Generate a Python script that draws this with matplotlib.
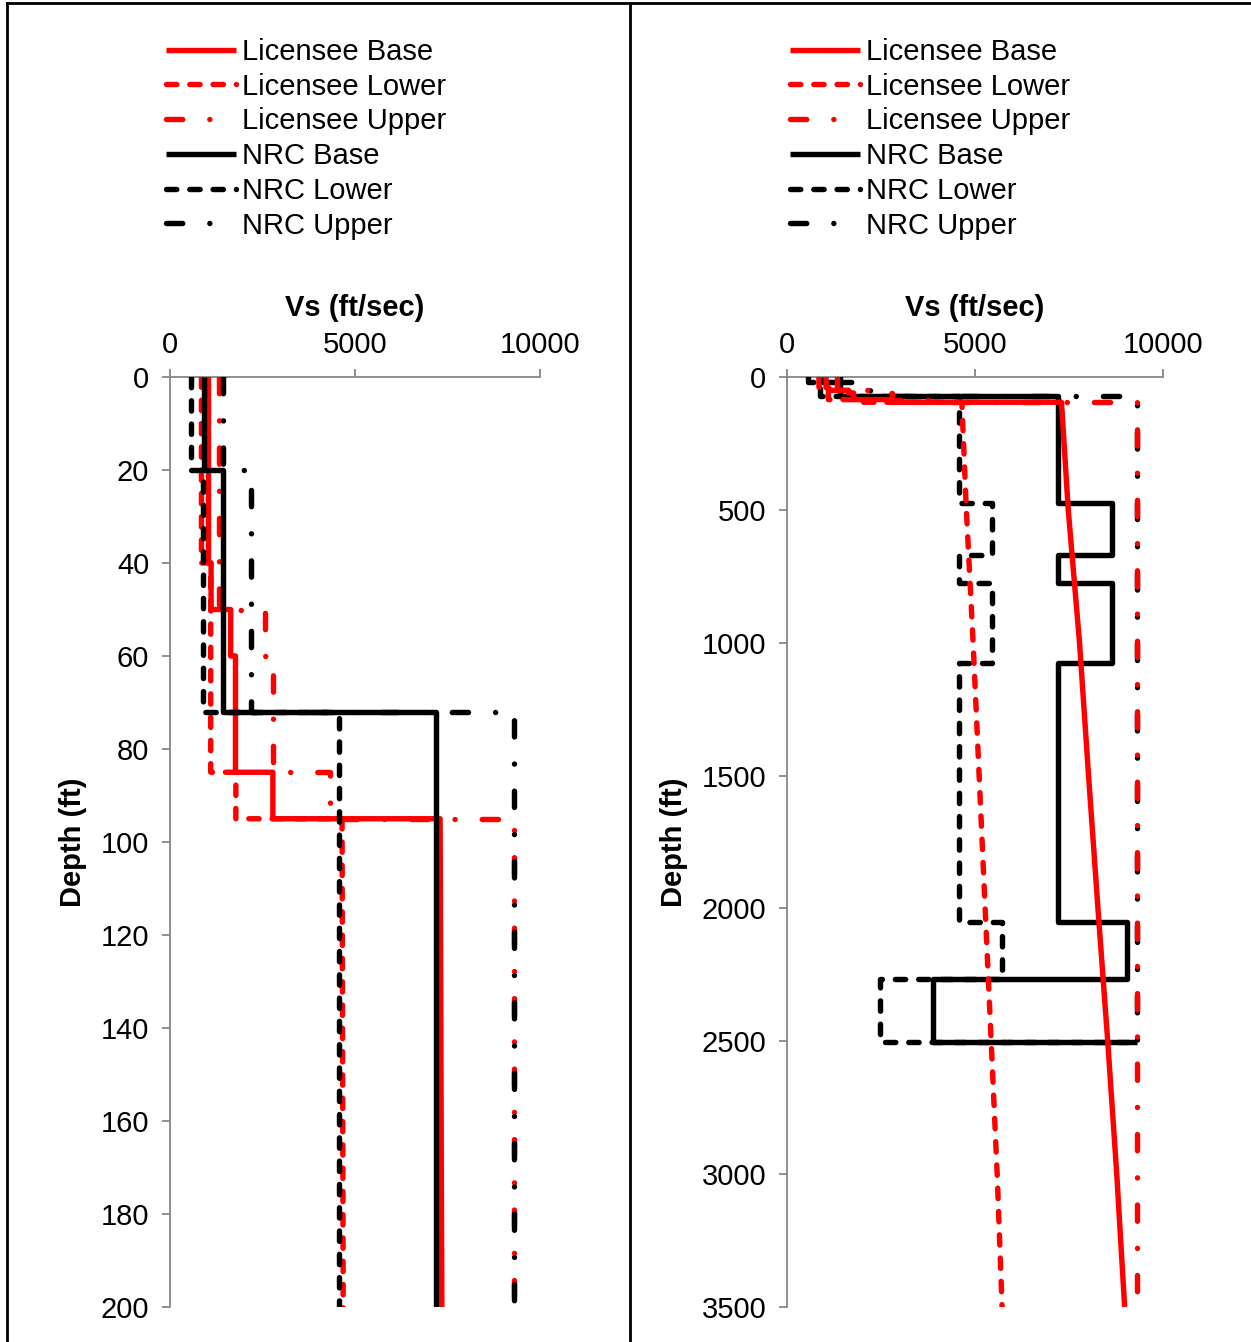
import numpy as np
import matplotlib
matplotlib.use("Agg")
import matplotlib.pyplot as plt
from matplotlib.lines import Line2D

plt.rcParams['font.family'] = ['Liberation Sans', 'DejaVu Sans']

# ---- data (ft, ft/sec) ----
# licensee profiles: shallow layers (boundaries + velocities), then gradient below 95 ft
lic_base_z = [0, 40, 50, 60, 85, 95]
lic_base_v = [1040, 1110, 1640, 1770, 2780]
lic_lower_z = [0, 40, 85, 95]
lic_lower_v = [850, 1100, 1780]
lic_upper_z = [0, 50, 60, 85, 95]
lic_upper_v = [1330, 2560, 2780, 4320]

grad_z = [95, 500, 1000, 1500, 2000, 2500, 3000, 3500]
grad_base = [7300, 7480, 7780, 8020, 8270, 8530, 8770, 8980]
grad_lower = [4650, 4770, 4950, 5110, 5270, 5430, 5590, 5720]
grad_upper = [9300, 9300, 9300, 9300, 9300, 9300, 9300, 9300]

# NRC profiles: layer boundaries + velocities, halfspace value at the base
nrc_z = [0, 20, 72, 474, 670, 776, 1075, 2050, 2266, 2504]
nrc_base_v = [930, 1420, 7200, 8640, 7200, 8640, 7200, 9040, 3890]
nrc_lower_v = [570, 880, 4570, 5460, 4570, 5460, 4570, 5710, 2470]
nrc_upper_z = [0, 20, 72, 2504]
nrc_upper_v = [1420, 2200, 9300]
halfspace = 9300

labels = ['Licensee Base', 'Licensee Lower', 'Licensee Upper',
          'NRC Base', 'NRC Lower', 'NRC Upper']


def steps(z, v):
    x = np.repeat(v, 2)
    y = np.column_stack([z[:-1], z[1:]]).ravel()
    return list(x), list(y)


def profiles():
    out = []
    x, y = steps(lic_base_z, lic_base_v)
    out.append((x + grad_base, y + grad_z))
    x, y = steps(lic_lower_z, lic_lower_v)
    out.append((x + grad_lower, y + grad_z))
    x, y = steps(lic_upper_z, lic_upper_v)
    out.append((x + grad_upper, y + grad_z))
    x, y = steps(nrc_z, nrc_base_v)
    out.append((x + [halfspace], y + [nrc_z[-1]]))
    x, y = steps(nrc_z, nrc_lower_v)
    out.append((x + [halfspace], y + [nrc_z[-1]]))
    x, y = steps(nrc_upper_z, nrc_upper_v)
    out.append((x, y))
    return out


dash = (0, (1.9, 2.4))
dashdot = (0, (3.0, 5.0, 0.01, 5.0))
styles = [('red', '-'), ('red', dash), ('red', dashdot),
          ('black', '-'), ('black', dash), ('black', dashdot)]
lw = 3.9
fs = 21
gray = '#878787'

W, H = 1251, 1342
fig = plt.figure(figsize=(W / 100, H / 100), dpi=100)
ax1 = fig.add_axes([170 / W, 35 / H, 370 / W, 930 / H])
ax2 = fig.add_axes([787 / W, 35 / H, 376 / W, 930 / H])

for ax, zmax, yt, red_top, legx in [(ax1, 200, np.arange(0, 201, 20), False, 166),
                                     (ax2, 3500, np.arange(0, 3501, 500), True, 790)]:
    handles = []
    for i, ((x, y), (c, ls)) in enumerate(zip(profiles(), styles)):
        z = 2 if (i < 3) == red_top else 1
        ln, = ax.plot(x, y, color=c, linestyle=ls, lw=lw, zorder=z + 2,
                      dash_capstyle='round', solid_capstyle='butt',
                      label=labels[i])
        handles.append(ln)
    ax.set_xlim(0, 10000)
    ax.set_ylim(zmax, 0)
    ax.set_xticks([0, 5000, 10000])
    ax.set_yticks(yt)
    ax.xaxis.tick_top()
    ax.xaxis.set_label_position('top')
    for s in ['right', 'bottom']:
        ax.spines[s].set_visible(False)
    for s in ['top', 'left']:
        ax.spines[s].set_color(gray)
        ax.spines[s].set_linewidth(1.3)
    ax.tick_params(direction='out', length=6, width=1.3, color=gray,
                   labelsize=fs, pad=9)
    ax.tick_params(axis='x', pad=7)
    ax.set_xlabel('Vs (ft/sec)', fontsize=fs, fontweight='bold', labelpad=11)
    ax.set_ylabel('Depth (ft)', fontsize=fs, fontweight='bold', labelpad=10)
    ax.patch.set_alpha(0)

    fig.legend(handles=handles, loc='upper left',
               bbox_to_anchor=(legx / W, 1 - 38 / H),
               bbox_transform=fig.transFigure, frameon=False, fontsize=fs,
               handlelength=2.4, handletextpad=0.2, labelspacing=0.23,
               borderpad=0, borderaxespad=0)

# page borders
kw = dict(transform=fig.transFigure, color='black', lw=2)
fig.add_artist(Line2D([7 / W, 1], [1 - 2.5 / H, 1 - 2.5 / H], **kw))
fig.add_artist(Line2D([7 / W, 7 / W], [0, 1 - 2.5 / H], **kw))
fig.add_artist(Line2D([630 / W, 630 / W], [0, 1 - 2.5 / H], **kw))

fig.savefig('out.png', dpi=100)
